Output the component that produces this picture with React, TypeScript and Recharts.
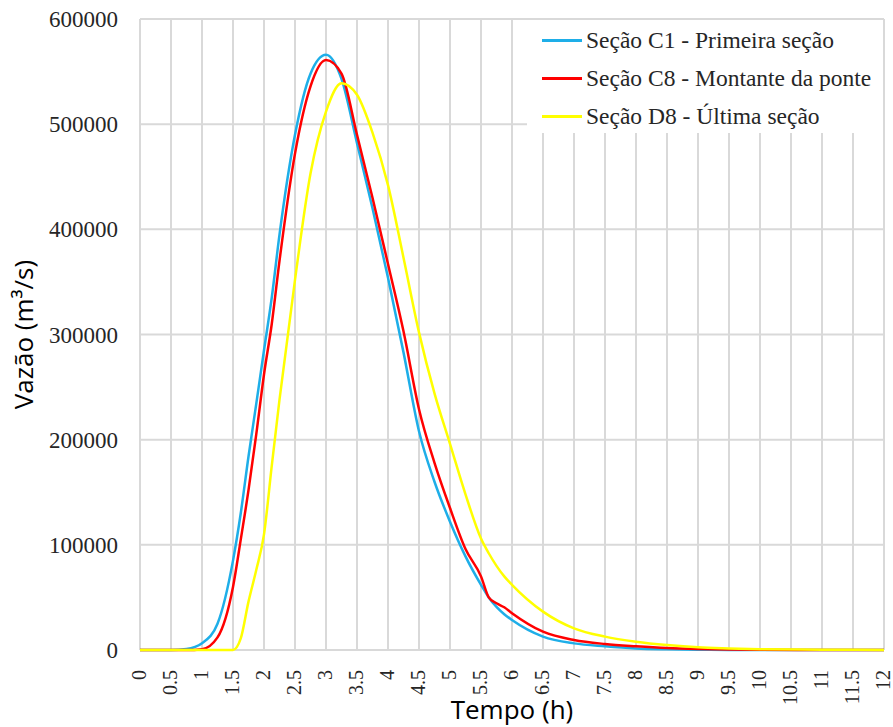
import { CartesianGrid, Line, LineChart, XAxis, YAxis } from "recharts";

const tempo = [
  0, 0.5, 0.75, 1, 1.25, 1.5, 1.625, 1.75, 1.875, 2, 2.125, 2.25, 2.5, 2.75, 3, 3.25, 3.5, 3.75, 4,
  4.25, 4.5, 4.75, 5, 5.25, 5.5, 5.625, 5.75, 5.875, 6, 6.5, 7, 7.5, 8, 8.5, 9, 9.5, 10, 11, 12,
];
const secaoC1 = [
  0, 0, 1000, 6500, 25000, 85000, 130000, 184000, 234000, 285000, 335000, 395000, 490000, 548000,
  566000, 543000, 482000, 420000, 354000, 283000, 208000, 160000, 122000, 89000, 62000, 50000,
  41000, 34000, 28500, 12700, 6300, 3500, 1500, 700, 300, 100, 0, 0, 0,
];
const secaoC8 = [
  0, 0, 0, 800, 12000, 60000, 105000, 152000, 205000, 262000, 310000, 370000, 472000, 536000,
  561000, 548000, 490000, 430000, 367000, 303000, 229000, 178000, 135000, 96000, 70000, 50000,
  44400, 40600, 35000, 17400, 9500, 5700, 3500, 1800, 900, 400, 200, 0, 0,
];
const secaoD8 = [
  0, 0, 0, 0, 0, 0, 11000, 46000, 76000, 110000, 175000, 238000, 352000, 453000, 512000, 539000,
  528000, 492000, 442000, 373000, 302000, 244000, 196000, 148000, 106000, 92000, 80000, 70000,
  62000, 36500, 20600, 12700, 7900, 4700, 2500, 1500, 800, 300, 100,
];
const xTicks = [0, 0.5, 1, 1.5, 2, 2.5, 3, 3.5, 4, 4.5, 5, 5.5, 6, 6.5, 7, 7.5, 8, 8.5, 9, 9.5, 10, 10.5, 11, 11.5, 12];
const yTicks = [0, 100000, 200000, 300000, 400000, 500000, 600000];

const series = [
  { key: "c1", name: "Seção C1 - Primeira seção", color: "#1eaee8" },
  { key: "c8", name: "Seção C8 - Montante da ponte", color: "#ff0000" },
  { key: "d8", name: "Seção D8 - Última seção", color: "#ffff00" },
];

const data = tempo.map((t, i) => ({ t, c1: secaoC1[i], c8: secaoC8[i], d8: secaoD8[i] }));

const serif = "'Liberation Serif', 'Times New Roman', serif";
const sans = "'Open Sans', 'Noto Sans', sans-serif";

function XTick({ x, y, payload }: any) {
  return (
    <text
      x={0}
      y={0}
      transform={`translate(${x + 6},${y + 12}) rotate(-90)`}
      textAnchor="end"
      fontFamily={serif}
      fontSize={20}
      fill="#262626"
    >
      {payload.value}
    </text>
  );
}

function LegendBox() {
  return (
    <div
      style={{
        position: "absolute", left: 527, top: 20, width: 356, height: 113,
        background: "#fff", paddingTop: 1, boxSizing: "border-box",
      }}
    >
      {series.map((s) => (
        <div key={s.key} style={{ display: "flex", alignItems: "center", height: 38 }}>
          <span style={{ width: 40, height: 3, background: s.color, marginLeft: 15, marginRight: 4 }} />
          <span style={{ fontFamily: serif, fontSize: 23.5, color: "#262626", whiteSpace: "nowrap" }}>{s.name}</span>
        </div>
      ))}
    </div>
  );
}

export default function App() {
  return (
    <div style={{ position: "absolute", left: 0, top: 0, width: 893, height: 727, background: "#fff" }}>
      <LineChart width={893} height={727} data={data} margin={{ top: 19, right: 9, left: 10, bottom: 0 }}>
        <CartesianGrid stroke="#d9d9d9" strokeWidth={2} />
        <XAxis
          dataKey="t"
          type="number"
          domain={[0, 12]}
          ticks={xTicks}
          interval={0}
          height={77}
          tickLine={false}
          axisLine={false}
          tick={<XTick />}
          label={{ value: "Tempo (h)", position: "insideBottom", offset: 8, fontFamily: sans, fontSize: 26, fill: "#000" }}
        />
        <YAxis
          type="number"
          domain={[0, 600000]}
          ticks={yTicks}
          width={130}
          tickLine={false}
          axisLine={false}
          tickMargin={16}
          tick={{ fontFamily: serif, fontSize: 23, fill: "#262626" }}
          label={{ value: "Vazão (m³/s)", angle: -90, position: "insideLeft", offset: 14, fontFamily: sans, fontSize: 26, fill: "#000", style: { textAnchor: "middle" } }}
        />
        {series.map((s) => (
          <Line
            key={s.key}
            type="monotone"
            dataKey={s.key}
            name={s.name}
            stroke={s.color}
            strokeWidth={2.5}
            dot={false}
            isAnimationActive={false}
          />
        ))}
      </LineChart>
      <LegendBox />
    </div>
  );
}
